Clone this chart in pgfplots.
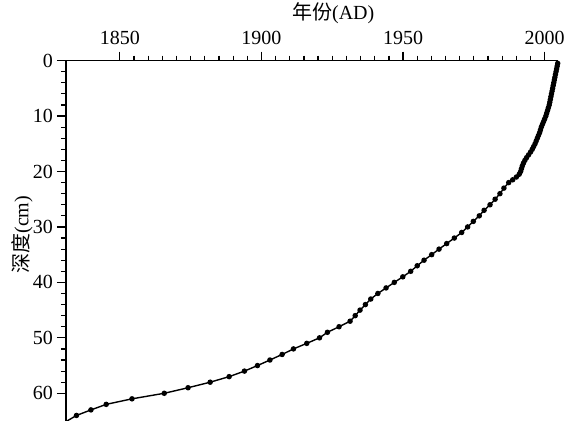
\documentclass[border=0pt]{standalone}
\usepackage{fontspec}
\setmainfont{Liberation Serif}
\newfontfamily\cjk{Noto Sans CJK SC}
\usepackage{pgfplots}
\usepackage{pgfplotstable}
\pgfplotsset{compat=1.18}
\usetikzlibrary{calc}

% depth (cm) vs. age (AD)
\pgfplotstableread{
year depth
2004.8 0
2004.6 0.5
2004.4 1
2004.2 1.5
2004.0 2
2003.8 2.5
2003.6 3
2003.4 3.5
2003.2 4
2003.0 4.5
2002.8 5
2002.6 5.5
2002.4 6
2002.2 6.5
2002.0 7
2001.8 7.5
2001.6 8
2001.3 8.5
2001.0 9
2000.7 9.5
2000.4 10
2000.0 10.5
1999.6 11
1999.2 11.5
1998.8 12
1998.5 12.5
1998.2 13
1997.8 13.5
1997.4 14
1997.0 14.5
1996.6 15
1996.1 15.5
1995.6 16
1995.0 16.5
1994.3 17
1993.6 17.5
1993.0 18
1992.5 18.5
1992.1 19
1991.8 19.5
1991.5 20
1991.0 20.5
1990.0 21
1988.7 21.5
1987.3 22
1985.6 23
1984.2 24
1982.5 25
1980.7 26
1978.6 27
1976.9 28
1974.8 29
1972.8 30
1970.7 31
1968.1 32
1965.4 33
1962.7 34
1960.1 35
1957.4 36
1955.0 37
1952.7 38
1949.9 39
1946.9 40
1944.0 41
1941.1 42
1938.6 43
1936.7 44
1934.8 45
1933.1 46
1931.3 47
1927.4 48
1923.3 49
1920.5 50
1916.0 51
1911.3 52
1907.3 53
1903.0 54
1898.6 55
1894.0 56
1888.6 57
1881.9 58
1874.1 59
1865.7 60
1854.3 61
1845.2 62
1839.8 63
1834.7 64
1830.0 65.4
}\core

\begin{document}
\begin{tikzpicture}
\begin{axis}[
  scale only axis,
  width=246pt, height=180.2pt,
  clip bounding box=upper bound,
  axis x line*=top, axis y line*=left,
  axis line style={-, line width=0.75pt},
  xmin=1831, xmax=2004.7,
  ymin=0, ymax=65, y dir=reverse,
  xtick={1850,1900,1950,2000}, minor x tick num=9,
  ytick={0,10,...,60}, minor y tick num=4,
  tick align=outside,
  major tick length=4.5pt, minor tick length=2.5pt,
  tick style={black, line width=0.6pt},
  tick label style={font=\fontsize{10}{12}\selectfont},
  yticklabel style={xshift=1.5pt},
  label style={font=\fontsize{10}{12}\selectfont},
  /pgf/number format/assume math mode=true,
  /pgf/number format/1000 sep={},
  xlabel={{\cjk 年份}(AD)},
  xlabel style={xshift=10.6pt, yshift=-3pt},
  ylabel={{\cjk 深度}(cm)},
  ylabel style={at={(axis description cs:-0.0894,0.517)}, anchor=center},
]
\addplot[black, line width=0.7pt, mark=*, mark size=1pt] table[x=year, y=depth] {\core};
\end{axis}
\pgfresetboundingbox
\path ($(current axis.south west)+(-33pt,0)$) rectangle ($(current axis.north east)+(4pt,30.3pt)$);
\end{tikzpicture}
\end{document}
